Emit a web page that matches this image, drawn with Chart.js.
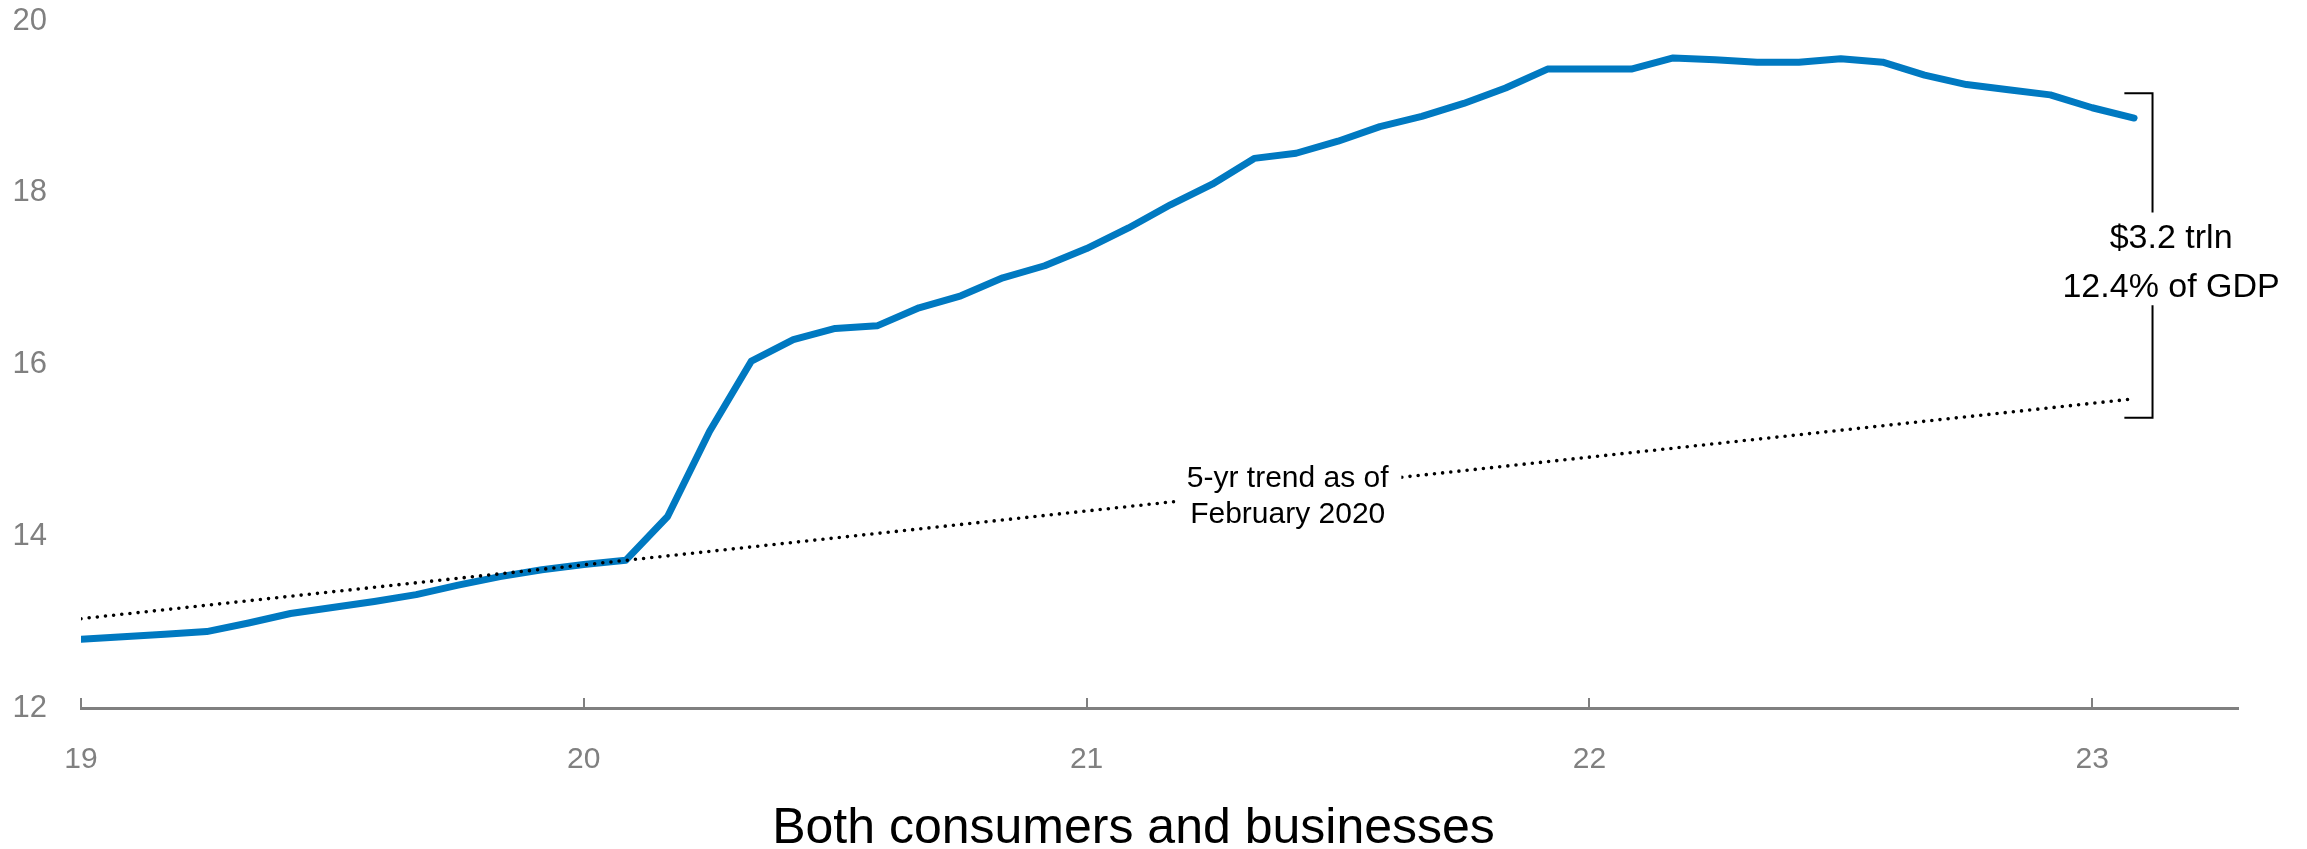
<!DOCTYPE html>
<html>
<head>
<meta charset="utf-8">
<script src="https://cdn.jsdelivr.net/npm/chart.js@4.4.1/dist/chart.umd.min.js"></script>
<style>
    html, body { margin: 0; padding: 0; background: #fff; }
    #wrap { width: 2307px; height: 849px; }
</style>
</head>
<body>
<div id="wrap"><canvas id="chart" width="2307" height="849"></canvas></div>
<script>
// Monthly series, Jan 2019 .. Feb 2023 (x axis in two-digit years)
const startYear = 19;
const savingsLevel = [
    12.80, 12.83, 12.86, 12.89, 12.99, 13.10, 13.17, 13.24, 13.32, 13.43, 13.53, 13.61, // 2019
    13.67, 13.72, 14.23, 15.22, 16.04, 16.29, 16.42, 16.45, 16.66, 16.80, 17.01, 17.15, // 2020
    17.35, 17.59, 17.86, 18.10, 18.40, 18.46, 18.60, 18.77, 18.89, 19.04, 19.22, 19.44, // 2021
    19.44, 19.44, 19.57, 19.55, 19.52, 19.52, 19.56, 19.52, 19.37, 19.26, 19.20, 19.14, // 2022
    18.99, 18.87                                                                        // 2023
];
const trendYears = [19, 23.083];
const trendLevel = [13.04, 15.60];
const xTicks = [19, 20, 21, 22, 23];
const yTicks = [12, 14, 16, 18, 20];

const chartTitle = 'Both consumers and businesses';
const gapLabel = ['$3.2 trln', '12.4% of GDP'];
const trendLabel = ['5-yr trend as of', 'February 2020'];

const FONT = "'Liberation Sans', Arial, sans-serif";
const GREY = '#808080';
const BLUE = '#0079c1';

// Annotations: trend label (masks the dotted line), bracket with gap size, bottom title
const annotations = {
    id: 'annotations',
    afterDatasetsDraw(chart) {
        const { ctx, chartArea, scales: { x, y } } = chart;
        ctx.save();

        // trend label sitting on the dotted line
        const tx = x.getPixelForValue(21.40), ty = y.getPixelForValue(14.46);
        ctx.fillStyle = '#fff';
        ctx.fillRect(x.getPixelForValue(21.177), ty - 42, x.getPixelForValue(21.626) - x.getPixelForValue(21.177), 84);
        ctx.fillStyle = '#000';
        ctx.font = `30px ${FONT}`;
        ctx.textAlign = 'center';
        ctx.textBaseline = 'middle';
        ctx.fillText(trendLabel[0], tx, ty - 18);
        ctx.fillText(trendLabel[1], tx, ty + 18);

        // bracket between latest level and trend
        const bx = x.getPixelForValue(23.12), bl = x.getPixelForValue(23.064);
        const top = y.getPixelForValue(19.16), bot = y.getPixelForValue(15.38);
        const gapTop = y.getPixelForValue(17.77), gapBot = y.getPixelForValue(16.69);
        ctx.strokeStyle = '#000';
        ctx.lineWidth = 2;
        ctx.beginPath();
        ctx.moveTo(bl, top); ctx.lineTo(bx, top); ctx.lineTo(bx, gapTop);
        ctx.moveTo(bx, gapBot); ctx.lineTo(bx, bot); ctx.lineTo(bl, bot);
        ctx.stroke();

        ctx.font = `34px ${FONT}`;
        const gx = x.getPixelForValue(23.157);
        ctx.fillText(gapLabel[0], gx, y.getPixelForValue(17.46));
        ctx.fillText(gapLabel[1], gx, y.getPixelForValue(16.90));

        // title under the axis
        ctx.font = `50px ${FONT}`;
        ctx.fillText(chartTitle, (chartArea.left + chartArea.right) / 2 - 26, 829);
        ctx.restore();
    }
};

new Chart(document.getElementById('chart'), {
    type: 'line',
    data: {
        datasets: [
            {
                label: '5-yr trend',
                data: trendYears.map((yr, i) => ({ x: yr, y: trendLevel[i] })),
                borderColor: '#000',
                borderWidth: 3.6,
                borderDash: [0, 8.2],
                borderCapStyle: 'round',
                pointRadius: 0
            },
            {
                label: 'Excess deposits',
                data: savingsLevel.map((v, i) => ({ x: startYear + i / 12, y: v })),
                borderColor: BLUE,
                borderWidth: 7,
                borderCapStyle: 'round',
                borderJoinStyle: 'round',
                pointRadius: 0,
                tension: 0
            }
        ]
    },
    options: {
        responsive: false,
        animation: false,
        devicePixelRatio: 1,
        layout: { padding: { top: 21, right: 69, bottom: 75, left: 0 } },
        scales: {
            x: {
                type: 'linear',
                min: 19, max: 23.29,
                afterBuildTicks: s => { s.ticks = xTicks.map(v => ({ value: v })); },
                afterFit: s => { s.height = 66; },
                border: { display: true, color: GREY, width: 3 },
                grid: { drawOnChartArea: false, drawTicks: true, tickLength: -10, color: GREY, lineWidth: 2 },
                ticks: { color: GREY, padding: 44, font: { family: FONT, size: 30 }, maxRotation: 0, callback: v => String(v) }
            },
            y: {
                min: 12, max: 20,
                afterBuildTicks: s => { s.ticks = yTicks.map(v => ({ value: v })); },
                afterFit: s => { s.width = 81; },
                border: { display: false },
                // hidden grid; its tick length only sets the label offset
                grid: { display: false, tickLength: 34 },
                ticks: { color: GREY, padding: 0, font: { family: FONT, size: 31 } }
            }
        },
        plugins: {
            legend: { display: false },
            tooltip: { enabled: false }
        }
    },
    plugins: [annotations]
});
</script>
</body>
</html>
